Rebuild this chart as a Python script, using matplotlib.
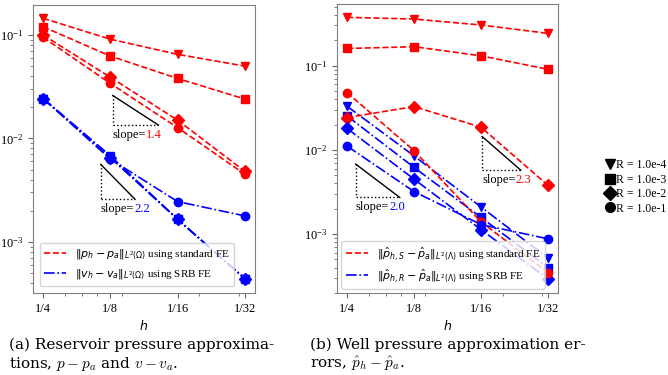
import matplotlib
matplotlib.use('Agg')
import matplotlib.pyplot as plt
from matplotlib.lines import Line2D
from matplotlib.ticker import FixedFormatter, NullFormatter

plt.rcParams['font.family'] = 'serif'
plt.rcParams['font.serif'] = ['Liberation Serif']
plt.rcParams['mathtext.fontset'] = 'dejavusans'

# mesh sizes, stored as 1/h
inv_h = [4, 8, 16, 32]
h_labels = ['1/4', '1/8', '1/16', '1/32']

r_labels = ['R = 1.0e-4', 'R = 1.0e-3', 'R = 1.0e-2', 'R = 1.0e-1']
markers = ['v', 's', 'D', 'o']

# (a) reservoir: ||p_h - p_a|| (standard FE), ||v_h - v_a|| (SRB FE)
res_std = [
    [0.145, 0.091, 0.065, 0.050],
    [0.120, 0.0625, 0.038, 0.024],
    [0.100, 0.039, 0.015, 0.0048],
    [0.095, 0.034, 0.0127, 0.0045],
]
res_srb = [
    [0.0243, 0.0068, 0.00165, 0.00044],
    [0.0243, 0.0066, 0.00165, 0.00044],
    [0.0243, 0.0065, 0.00165, 0.00044],
    [0.0243, 0.0063, 0.00245, 0.00178],
]

# (b) well: ||p^_h,S - p^_a|| (standard FE), ||p^_h,R - p^_a|| (SRB FE)
well_std = [
    [0.375, 0.358, 0.304, 0.242],
    [0.160, 0.168, 0.131, 0.0906],
    [0.0242, 0.0327, 0.0186, 0.0038],
    [0.048, 0.0098, 0.00140, 0.00035],
]
well_srb = [
    [0.033, 0.0085, 0.0021, 0.00052],
    [0.0253, 0.0062, 0.00158, 0.00040],
    [0.018, 0.0045, 0.00113, 0.000295],
    [0.0111, 0.0032, 0.0013, 0.00088],
]

# slope triangles: (corner x, corner y, width ratio, slope, colour of number)
res_slopes = [(8.2, 0.026, 1.6, 1.4, 'red'), (7.25, 0.0056, 1.42, 2.2, 'blue')]
well_slopes = [(4.37, 0.0068, 1.58, 2.0, 'blue'), (16.2, 0.0144, 1.49, 2.3, 'red')]

fig = plt.figure(figsize=(6.68, 3.75), dpi=100)
ax_a = fig.add_axes([33 / 668, 82 / 375, 222 / 668, 288 / 375])
ax_b = fig.add_axes([337 / 668, 82 / 375, 221 / 668, 289 / 375])


def draw_slope(ax, x0, y0, ratio, slope, color):
    x1 = x0 * ratio
    y1 = y0 * ratio ** (-slope)
    ax.plot([x0, x1], [y0, y1], color='black', lw=1.0)
    ax.plot([x0, x0], [y0, y1], color='black', lw=1.0, ls=':')
    ax.plot([x0, x1], [y1, y1], color='black', lw=1.0, ls=':')
    t = ax.text(x0, y1 / 1.1, 'slope=', fontsize=9, va='top', ha='left')
    ax.annotate(f'{slope:.1f}', xy=(1, 0), xycoords=t, va='bottom', ha='left',
                fontsize=9, color=color)


def setup(ax, ylim):
    ax.set_xscale('log')
    ax.set_yscale('log')
    ax.set_ylim(*ylim)
    ax.set_xticks(inv_h)
    ax.xaxis.set_major_formatter(FixedFormatter(h_labels))
    ax.xaxis.set_minor_formatter(NullFormatter())
    ax.set_xlabel('$h$', fontsize=9, labelpad=3)
    ax.tick_params(labelsize=9, color='0.4')
    ax.tick_params(which='minor', color='0.4')
    for s in ax.spines.values():
        s.set_color('0.5')


for i in range(4):
    ax_a.plot(inv_h, res_std[i], '--', color='red', marker=markers[i], ms=6, lw=1.2)
    ax_a.plot(inv_h, res_srb[i], '-.', color='blue', marker=markers[i], ms=6, lw=1.2)
    ax_b.plot(inv_h, well_std[i], '--', color='red', marker=markers[i], ms=6, lw=1.2)
    ax_b.plot(inv_h, well_srb[i], '-.', color='blue', marker=markers[i], ms=6, lw=1.2)

setup(ax_a, (3.2e-4, 0.195))
setup(ax_b, (2.0e-4, 0.54))

for s in res_slopes:
    draw_slope(ax_a, *s)
for s in well_slopes:
    draw_slope(ax_b, *s)

ax_a.legend(handles=[
    Line2D([], [], color='red', ls='--', lw=1.2,
           label=r'$\|p_h - p_a\|_{L^2(\Omega)}$ using standard FE'),
    Line2D([], [], color='blue', ls='-.', lw=1.2,
           label=r'$\|v_h - v_a\|_{L^2(\Omega)}$ using SRB FE'),
], loc='lower left', fontsize=8, borderaxespad=0.6)

ax_b.legend(handles=[
    Line2D([], [], color='red', ls='--', lw=1.2,
           label=r'$\|\hat{p}_{h,S} - \hat{p}_a\|_{L^2(\Lambda)}$ using standard FE'),
    Line2D([], [], color='blue', ls='-.', lw=1.2,
           label=r'$\|\hat{p}_{h,R} - \hat{p}_a\|_{L^2(\Lambda)}$ using SRB FE'),
], loc='lower left', fontsize=8, borderaxespad=0.4)

fig.legend(handles=[Line2D([], [], color='black', ls='', marker=m, ms=7, label=l)
                    for m, l in zip(markers, r_labels)],
           loc='center left', bbox_to_anchor=(601 / 668, 1 - 187 / 375),
           frameon=False, fontsize=8.5, handlelength=0.6, handletextpad=0.2,
           labelspacing=0.2, borderpad=0)

cap = dict(fontsize=11, va='center', family='DejaVu Serif', math_fontfamily='cm')
fig.text(9 / 668, 1 - 345 / 375, '(a) Reservoir pressure approxima-', **cap)
fig.text(9 / 668, 1 - 364 / 375, r'tions, $p - p_a$ and $v - v_a$.', **cap)
fig.text(310 / 668, 1 - 345 / 375, '(b) Well pressure approximation er-', **cap)
fig.text(310 / 668, 1 - 364 / 375, r'rors, $\hat{p}_h - \hat{p}_a$.', **cap)

fig.savefig('out.png', dpi=100)
